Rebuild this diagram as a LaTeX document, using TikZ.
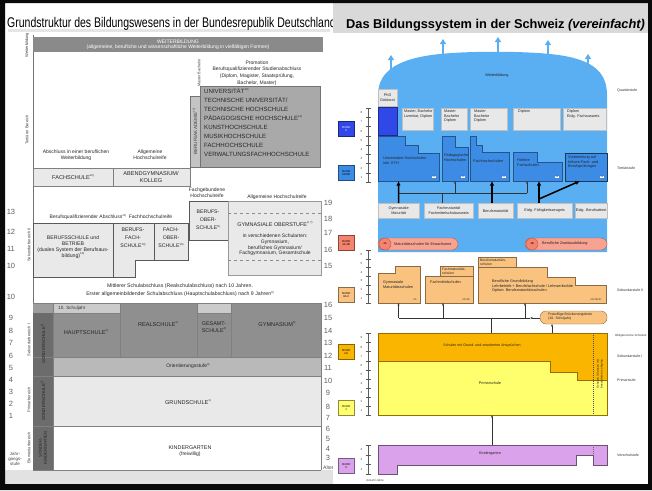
\documentclass[tikz,border=0pt]{standalone}
\usepackage{fontspec}
\usepackage{graphicx}
\setmainfont{Liberation Sans}
\usetikzlibrary{arrows.meta}
\newcommand\fsz[2]{\fontsize{#1}{#2}\selectfont}
\newcommand\fn[1]{\raisebox{0.5em}{\fsz{2.8}{3}#1)}}

\definecolor{frameK}{HTML}{0A0A0A}
\definecolor{wbBar}{HTML}{8A8A8A}
\definecolor{uniG}{HTML}{A9A9A9}
\definecolor{baG}{HTML}{C4C4C4}
\definecolor{paleG}{HTML}{E9E9E9}
\definecolor{midG}{HTML}{B9B9B9}
\definecolor{darkG}{HTML}{8F8F8F}
\definecolor{colG}{HTML}{6C6C6C}
\definecolor{stripG}{HTML}{CBCBCB}
\definecolor{footG}{HTML}{E2E2E2}
\definecolor{titleG}{HTML}{D9D9D9}
\definecolor{skyA}{HTML}{5AAEF2}
\definecolor{blueB}{HTML}{3C8CE6}
\definecolor{blueD}{HTML}{3048E8}
\definecolor{boxG}{HTML}{E8E8E8}
\definecolor{pillR}{HTML}{F6836E}
\definecolor{orL}{HTML}{F9C27E}
\definecolor{orD}{HTML}{F9B500}
\definecolor{yel}{HTML}{FFFF6E}
\definecolor{lil}{HTML}{D9A2EA}

% vertical year scale: x, top, bottom, number of years, offset of the first label
\newcommand\yearscale[5]{%
  \draw[rulerline] (#1,#2) -- (#1,#3);
  \foreach \k in {0,...,#4}{\draw[rulerline] ({#1-2.5},{#2+(#3-#2)*\k/#4}) -- ({#1+2.5},{#2+(#3-#2)*\k/#4});}
  \foreach \k in {1,...,#4}{\pgfmathtruncatemacro\lab{\k+#5}
    \node[rulernum] (yr-#2-\k) at ({#1-6.5},{#3-(#3-#2)*(\k-0.5)/#4}) {\lab};}
}

\begin{document}
\begin{tikzpicture}[x=1pt,y=-1pt,
  de/.style={font=\fsz{5}{6}, align=center, inner sep=0pt, text=black!85},
  decap/.style={font=\fsz{5.6}{6.6}, align=center, inner sep=0pt, text=black!85},
  devert/.style={font=\fsz{4}{4.6}, rotate=90, inner sep=0pt, text=black!75, align=center},
  num/.style={font=\fsz{7.5}{8.5}, inner sep=0pt, text=black!62},
  sek2box/.style={fill=paleG, draw=black!65, line width=0.7pt},
  ch/.style={font=\fsz{3.8}{4.5}, align=left, inner sep=0pt, text=black!85},
  chc/.style={font=\fsz{3.8}{4.5}, align=center, inner sep=0pt, text=black!85},
  tag/.style={fill=white, font=\fsz{2.4}{3}, inner sep=0.6pt, text=black!70},
  isc/.style={draw=#1!55!black, fill=#1, minimum width=16pt, minimum height=15pt, inner sep=0pt, font=\fsz{2.8}{3.3}, align=center, line width=0.4pt},
  graybox/.style={fill=boxG, draw=black!25, line width=0.3pt},
  qualbox/.style={graybox, anchor=north west, chc, inner sep=0pt},
  thinarr/.style={draw=black!80, line width=0.4pt, -{Latex[length=2.4pt,width=2.2pt]}},
  boldarr/.style={draw=black, line width=1.5pt, -{Latex[length=4.5pt,width=4.5pt]}},
  domearr/.style={draw=skyA, line width=1.8pt, -{Triangle[length=5pt,width=6pt]}},
  rulerline/.style={draw=black!65, line width=0.35pt},
  rulernum/.style={font=\fsz{3}{3.5}, inner sep=0pt, text=black!75},
  lvl/.style={font=\fsz{3.6}{4}, anchor=west, inner sep=0pt, text=black!80},
  bluebox/.style={fill=blueB, draw=blueB!60!black, line width=0.4pt},
  orbox/.style={fill=orL, draw=orL!55!black, line width=0.4pt},
]
\useasboundingbox (0,0) rectangle (652,490);
\fill[white] (0,0) rectangle (652,490);

% ================= German chart =================
\fill[footG] (5,470) rectangle (333,484);
\fill[black!10] (8,29) rectangle (330,31.5);
\begin{scope}
  \clip (5,3) rectangle (333,33);
  \node[anchor=base west, inner sep=0pt, font=\fsz{14}{16}] (titleDE) at (7,27)
    {\scalebox{0.75}[1]{Grundstruktur des Bildungswesens in der Bundesrepublik Deutschland}};
\end{scope}

% axis
\draw[black!55, line width=0.6pt] (33,35) -- (33,470);

% Weiterbildung
\fill[wbBar] (33,37) rectangle (323,52);
\node[font=\fsz{5}{5.5}, inner sep=0pt, text=white] (wbTitle) at (178,41.5) {WEITERBILDUNG};
\node[font=\fsz{5}{5.5}, inner sep=0pt, text=white] (wbSub) at (178,47.5) {(allgemeine, berufliche und wissenschaftliche Weiterbildung in vielfältigen Formen)};

% tertiary
\node[de, font=\fsz{5}{6.6}] (promo) at (257,73) {Promotion\\Berufsqualifizierender Studienabschluss\\(Diplom, Magister, Staatsprüfung,\\Bachelor, Master)};
\node[devert, font=\fsz{3.8}{4}] (bachV) at (199,67) {Bachelor};
\node[devert, font=\fsz{3.8}{4}] (mastV) at (199,81) {Master};
\filldraw[fill=uniG, draw=black!55, line width=0.5pt] (200,86) rectangle (320,167);
\filldraw[fill=baG, draw=black!55, line width=0.4pt] (190,96) rectangle (200,167);
\node[devert, font=\fsz{4.6}{5}] (baText) at (195,131.5) {BERUFSAKADEMIE\fn{15}};
\foreach \txt [count=\i] in {UNIVERSITÄT\fn{13}, TECHNISCHE UNIVERSITÄT/, TECHNISCHE HOCHSCHULE, PÄDAGOGISCHE HOCHSCHULE\fn{14}, KUNSTHOCHSCHULE, MUSIKHOCHSCHULE, FACHHOCHSCHULE, VERWALTUNGSFACHHOCHSCHULE}
  \node[decap, anchor=west, font=\fsz{6.1}{7}] (uni-\i) at (204,{91+(\i-1)*9}) {\txt};

\node[de] (absWB) at (76,155) {Abschluss in einer beruflichen\\Weiterbildung};
\node[de] (ahr1) at (150,155) {Allgemeine\\Hochschulreife};
\filldraw[fill=paleG, draw=black!50, line width=0.5pt] (33,168) rectangle (113,186);
\filldraw[fill=paleG, draw=black!50, line width=0.5pt] (113,168) rectangle (190,186);
\node[decap] (fachschule) at (73,177) {FACHSCHULE\fn{12}};
\node[decap] (abendgym) at (151,177) {ABENDGYMNASIUM/\\KOLLEG};

% upper secondary
\node[de] (fgHR) at (207,193) {Fachgebundene\\Hochschulreife};
\node[de] (ahr2) at (277,197) {Allgemeine Hochschulreife};
\node[de] (bqA) at (111,217) {Berufsqualifizierender Abschluss\fn{11}\ \ Fachhochschulreife};
\filldraw[sek2box] (33,223) rectangle (113,277);
\filldraw[sek2box] (113,223) -- (154,223) -- (154,260) -- (135,260) -- (135,277) -- (113,277) -- cycle;
\filldraw[sek2box] (154,223) rectangle (188,260);
\filldraw[sek2box] (189,201) rectangle (228,240);
\filldraw[sek2box, draw=black!40, line width=0.5pt] (228,201) rectangle (321,275);
\draw[black!45, dashed, line width=0.4pt] (228,213) -- (321,213);
\draw[black!45, dashed, line width=0.4pt] (228,260) -- (321,260);
\node[decap, font=\fsz{5.2}{6}] (bsb) at (73,247) {BERUFSSCHULE und\\BETRIEB\\(duales System der Berufsaus-\\bildung)\fn{10}};
\node[decap, font=\fsz{5.2}{8}] (bfs) at (133,238) {BERUFS-\\FACH-\\SCHULE\fn{10}};
\node[decap, font=\fsz{5.2}{8}] (fos) at (171,238) {FACH-\\OBER-\\SCHULE\fn{10}};
\node[decap, font=\fsz{5.2}{8}] (bos) at (208,220) {BERUFS-\\OBER-\\SCHULE\fn{8}};
\node[decap, font=\fsz{5.4}{6}] (gost) at (275,224) {GYMNASIALE OBERSTUFE\fn{9, 7}};
\node[de, font=\fsz{5}{5.8}] (gostSub) at (275,245) {in verschiedenen Schularten:\\Gymnasium,\\berufliches Gymnasium/\\Fachgymnasium, Gesamtschule};

\node[de, font=\fsz{5.2}{6}] (msa) at (180,286) {Mittlerer Schulabschluss (Realschulabschluss) nach 10 Jahren.};
\node[de, font=\fsz{5.2}{6}] (esa) at (180,294) {Erster allgemeinbildender Schulabschluss (Hauptschulabschluss) nach 9 Jahren\fn{6}};

% lower secondary, primary, pre-school
\fill[darkG] (33,303) rectangle (321,357);
\fill[stripG] (53,303) rectangle (120,313);
\fill[stripG] (197,303) rectangle (231,313);
\fill[midG!85!black] (33,303) rectangle (53,313);
\fill[midG] (53,357) rectangle (321,376);
\fill[paleG] (53,376) rectangle (321,426);
\fill[colG] (33,313) rectangle (53,470);
\draw[black!50, line width=0.4pt] (33,303) -- (321,303) (53,313) -- (120,313) (197,313) -- (231,313)
  (33,357) -- (321,357) (33,376) -- (321,376) (33,426) -- (321,426) (33,470) -- (321,470)
  (53,303) -- (53,470) (120,303) -- (120,357) (197,303) -- (197,357) (231,303) -- (231,357)
  (321,303) -- (321,470);
\node[font=\fsz{4.6}{5}, anchor=west, inner sep=0pt, text=black!80] (tenth) at (58,308) {10. Schuljahr};
\node[decap] (hauptschule) at (86,332) {HAUPTSCHULE\fn{4}};
\node[decap] (realschule) at (158,324) {REALSCHULE\fn{4}};
\node[decap, font=\fsz{5.4}{6.6}] (gesamtschule) at (214,327) {GESAMT-\\SCHULE\fn{4}};
\node[decap] (gymnasium) at (277,324) {GYMNASIUM\fn{5}};
\node[de] (orient) at (188,366) {Orientierungsstufe\fn{3}};
\node[decap] (grundschule) at (188,402) {GRUNDSCHULE\fn{1}};
\node[decap, font=\fsz{5.4}{6.4}] (kiga) at (190,451) {KINDERGARTEN\\{\fsz{5}{6}(freiwillig)}};
\node[devert, font=\fsz{4.4}{5}, text=black!85] (sonder1) at (43,344) {SONDERSCHULE\fn{2}};
\node[devert, font=\fsz{4.4}{5}, text=black!85] (sonder2) at (43,401) {SONDERSCHULE\fn{2}};
\node[devert, font=\fsz{4.2}{5}, text=black!85] (sonderkg) at (43,448) {SONDER-\\KINDERGARTEN};

% area labels and grades
\node[devert] (wbV) at (27,45) {Weiterbildung};
\node[devert] (tertV) at (27,130) {Tertiärer Bereich};
\node[devert] (sek2V) at (29,245) {Sekundarbereich II};
\node[devert] (sek1V) at (29,340) {Sekundarbereich I};
\node[devert] (primV) at (29,400) {Primarbereich};
\node[devert] (elemV) at (29,448) {Elementarbereich};
\node[font=\fsz{4.4}{5}, align=center, inner sep=0pt, text=black!75] (jgs) at (15,459) {Jahr-\\gangs-\\stufe};
\foreach \n/\yy in {13/212,12/232,11/249,10/266}
  \node[num] (gu-\n) at (11,\yy) {\n};
\foreach \n/\yy in {10/297,9/318,8/331,7/343,6/356,5/368,4/380,3/392,2/404,1/416}
  \node[num] (gl-\n) at (11,\yy) {\n};
\foreach \n/\yy in {19/203,18/219,17/233,16/250,15/266}
  \node[num] (au-\n) at (328,\yy) {\n};
\foreach \n/\yy in {16/305,15/318,14/331,13/343,12/356,11/368,10/381,9/393,8/407,7/418,6/429,5/439,4/449,3/458}
  \node[num] (al-\n) at (328,\yy) {\n};
\node[font=\fsz{5}{5}, inner sep=0pt, anchor=west, text=black!70] (alter) at (323,468) {Alter};

% ================= Swiss chart =================
\fill[white] (333,33) rectangle (648,484);
\fill[titleG] (333,3) rectangle (648,33);
\node[anchor=base west, inner sep=0pt, font=\bfseries\fsz{12.8}{14}] (titleCH) at (346,28)
  {Das Bildungssystem in der Schweiz \textit{(vereinfacht)}};

% tertiary dome
\fill[skyA] (378,252) -- (378,95) .. controls (378,70) and (400,58) .. (440,54)
  .. controls (470,51) and (520,51) .. (550,54) .. controls (590,58) and (607,70) .. (607,95) -- (607,252) -- cycle;
\foreach \i/\xx/\ya/\yb in {1/391/74/55,2/443/58/39,3/498/56/37,4/548/58/40,5/588/72/54}{
  \coordinate (dome\i a) at (\xx,\ya);
  \coordinate (dome\i b) at (\xx,\yb);
  \draw[domearr] (dome\i a) -- (dome\i b);
}
\node[chc] (wbCH) at (497,76) {Weiterbildung};

\node[qualbox, minimum width=19pt, minimum height=17pt] (phd) at (378,89) {PhD\\Doktorat};
\fill[blueD, draw=blueD!60!black, line width=0.4pt] (378,107) rectangle (397,135);
\node[qualbox, minimum width=31pt, minimum height=22pt] (q1) at (402,108) {};
\node[ch, anchor=north west] (q1t) at (404,110) {Master, Bachelor\\Lizentiat, Diplom};
\node[qualbox, minimum width=26pt, minimum height=22pt] (q2) at (441,108) {};
\node[ch, anchor=north west] (q2t) at (444,110) {Master\\Bachelor\\Diplom};
\node[qualbox, minimum width=37pt, minimum height=22pt] (q3) at (470,108) {};
\node[ch, anchor=north west] (q3t) at (474,110) {Master\\Bachelor\\Diplom};
\node[qualbox, minimum width=47pt, minimum height=22pt] (q4) at (513,108) {};
\node[ch, anchor=north west] (q4t) at (518,110) {Diplom};
\node[qualbox, minimum width=43pt, minimum height=22pt] (q5) at (563,108) {};
\node[ch, anchor=north west] (q5t) at (567,110) {Diplom\\Eidg. Fachausweis};

% tertiary schools
\filldraw[bluebox] (378,136) -- (405,136) -- (405,145) -- (418,145) -- (418,153) -- (439,153) -- (439,181) -- (378,181) -- cycle;
\filldraw[bluebox] (442,136) -- (455,136) -- (455,147) -- (468,147) -- (468,181) -- (442,181) -- cycle;
\filldraw[bluebox] (470,136) -- (476,136) -- (476,145) -- (482,145) -- (482,152) -- (509,152) -- (509,181) -- (470,181) -- cycle;
\filldraw[bluebox] (513,152) -- (537,152) -- (537,162) -- (562,162) -- (562,181) -- (513,181) -- cycle;
\filldraw[bluebox, draw=blueB!40!black] (565,153) rectangle (607,181);
\node[ch, anchor=north west] (uniT) at (383,157) {Universitäre Hochschulen\\inkl. ETH};
\node[ch, anchor=north west] (phT) at (444,154) {Pädagogische\\Hochschulen};
\node[ch, anchor=north west] (fhT) at (473,160) {Fachhochschulen};
\node[ch, anchor=north west] (hfT) at (517,159) {Höhere\\Fachschulen};
\node[ch, anchor=north west] (vbT) at (568,156) {Vorbereitung auf\\höhere Fach- und\\Berufsprüfungen};
\node[tag] (tagU) at (434,177) {5A};
\node[tag] (tagP) at (463,177) {5A};
\node[tag] (tagF) at (504,177) {5A};
\node[tag] (tagH) at (557,177) {5B};
\node[tag] (tagV) at (602,177) {5B};

% entry qualifications
\node[qualbox, minimum width=41pt, minimum height=15pt] (gm) at (378,203) {Gymnasiale\\Maturität};
\node[qualbox, minimum width=49pt, minimum height=15pt] (fm) at (424,203) {Fachmaturität\\Fachmittelschulausweis};
\node[qualbox, minimum width=35pt, minimum height=15pt] (bm) at (478,203) {Berufsmaturität};
\node[qualbox, minimum width=55pt, minimum height=15pt] (efz) at (517,203) {Eidg. Fähigkeitszeugnis};
\node[qualbox, minimum width=32pt, minimum height=15pt] (eba) at (575,203) {Eidg. Berufsattest};

\coordinate (uniIn) at (398.5,181);
\coordinate (phIn) at (455,181);
\coordinate (fhIn) at (492,181);
\coordinate (hfIn) at (539,181);
\coordinate (hfIn2) at (527,181);
\coordinate (vbIn) at (580,181);
\coordinate (bmOut) at (492,203);
\coordinate (efzOut) at (539,203);
\coordinate (efzMid) at (539,199);
\coordinate (busL) at (398.5,193);
\coordinate (busR) at (527,193);
\coordinate (busPh) at (455,193);
\coordinate (busFm) at (442,193);
\coordinate (fmOut) at (442,203);
\draw[black!80, line width=0.4pt] (busL) -- (busR);
\draw[black!80, line width=0.4pt] (fmOut) -- (busFm);
\draw[thinarr] (busPh) -- (phIn);
\draw[thinarr] (busR) -- (hfIn2);
\draw[boldarr] (gm.north) -- (uniIn);
\draw[boldarr] (bmOut) -- (fhIn);
\draw[boldarr] (efzOut) -- (hfIn);
\draw[boldarr] (efzMid) -- (vbIn);

% second-chance education
\filldraw[fill=pillR!75!white, draw=pillR!70!black, line width=0.4pt, rounded corners=6pt] (378,238) rectangle (458,250);
\node[circle, fill=pillR, draw=pillR!70!black, line width=0.4pt, minimum size=12pt, inner sep=0pt, font=\fsz{2.8}{3}] (c4a) at (385,244) {4A};
\node[ch, anchor=west] (p4aT) at (394,244) {Maturitätsschulen für Erwachsene};
\filldraw[fill=pillR!75!white, draw=pillR!70!black, line width=0.4pt, rounded corners=6pt] (525,238) rectangle (607,250);
\node[circle, fill=pillR, draw=pillR!70!black, line width=0.4pt, minimum size=12pt, inner sep=0pt, font=\fsz{2.8}{3}] (c4b) at (532,244) {4B};
\node[ch, anchor=west] (p4bT) at (542,244) {Berufliche Zweitausbildung};

% upper secondary
\filldraw[orbox] (378,273) -- (395,273) -- (395,266) -- (420,266) -- (420,303) -- (378,303) -- cycle;
\filldraw[orbox] (440,266) rectangle (473,276);
\filldraw[orbox] (425,276) rectangle (473,303);
\filldraw[orbox] (478,257) rectangle (516,267);
\filldraw[orbox] (478,267) -- (547,267) -- (547,277) -- (575,277) -- (575,285) -- (606,285) -- (606,303) -- (478,303) -- cycle;
\node[ch, anchor=north west] (gmsT) at (383,281) {Gymnasiale\\Maturitätsschulen};
\node[ch, anchor=north west, font=\fsz{3.4}{4}] (fmsSmT) at (442,267.5) {Fachmaturitäts-\\schulen};
\node[ch, anchor=north west] (fmsT) at (430,281) {Fachmittelschulen};
\node[ch, anchor=north west, font=\fsz{3.4}{4}] (bmsSmT) at (480,258.5) {Berufsmaturitäts-\\schulen};
\node[ch, anchor=north west] (bgT) at (492,280) {Berufliche Grundbildung\\Lehrbetrieb + Berufsfachschule / Lehrwerkstätte\\Option: Berufsmaturitätsschulen};
\node[font=\fsz{2.6}{3}, inner sep=0pt, text=black!75] (tag3a) at (415,299.5) {3A};
\node[font=\fsz{2.6}{3}, inner sep=0pt, text=black!75] (tag3b) at (466,299.5) {3A/3B};
\node[font=\fsz{2.6}{3}, inner sep=0pt, text=black!75] (tag3c) at (596,299.5) {3A/3B/3C};

% lower secondary and primary
\fill[orD] (378,333) rectangle (607,415);
\filldraw[fill=yel, draw=orD!60!black, line width=0.35pt] (378,361) -- (550,361) -- (550,372) -- (577,372) -- (577,380) -- (607,380) -- (607,415) -- (378,415) -- cycle;
\draw[orD!60!black, line width=0.4pt] (378,333) rectangle (607,415);
\draw[black!70, dashed, dash pattern=on 1pt off 1pt, line width=0.4pt] (593,333) -- (593,415);
\node[chc, font=\fsz{3.6}{4}] (sek1T) at (482,346) {Schulen mit Grund- und erweiterten Ansprüchen};
\node[chc] (primT) at (490,383) {Primarschule};
\node[chc, rotate=90, font=\fsz{3}{3.6}] (sonderCH) at (600,374) {Schulen / Klassen mit\\besonderem Lehrplan};

% bridge year and connectors
\filldraw[orbox, rounded corners=6pt] (540,311) rectangle (607,324);
\node[ch, anchor=north west, font=\fsz{3.5}{4.2}] (bridgeT) at (548,313) {Freiwillige Brückenangebote\\(10. Schuljahr)};
\coordinate (secBusL) at (398.5,318);
\coordinate (secBusR) at (530,318);
\coordinate (gmsIn) at (398.5,303);
\coordinate (fmsBus) at (443,318);
\coordinate (fmsIn) at (443,303);
\coordinate (bgBus) at (525,318);
\coordinate (bgIn) at (525,303);
\coordinate (sek1Top) at (491,333);
\coordinate (sek1Bus) at (491,318);
\coordinate (bridgeL) at (540,318);
\coordinate (sek1Top2) at (552,333);
\coordinate (bridgeB) at (552,324);
\draw[black!80, line width=0.4pt] (secBusL) -- (secBusR);
\draw[black!80, line width=0.4pt] (sek1Top) -- (sek1Bus);
\draw[thinarr] (secBusL) -- (gmsIn);
\draw[thinarr] (fmsBus) -- (fmsIn);
\draw[thinarr] (bgBus) -- (bgIn);
\draw[thinarr] (bridgeL) -- (secBusR);
\draw[thinarr] (sek1Top2) -- (bridgeB);

% kindergarten
\filldraw[fill=lil, draw=lil!50!black, line width=0.4pt] (378,445) -- (607,445) -- (607,465) -- (593,465) -- (593,455) -- (576,455) -- (576,465) -- (397,465) -- (397,474) -- (378,474) -- cycle;
\draw[black!60, dashed, dash pattern=on 1pt off 1pt, line width=0.4pt] (593,445) -- (593,455);
\node[chc] (kgT) at (490,454) {Kindergarten};
\coordinate (kgTop) at (492,445);
\coordinate (primBot) at (492,415);
\draw[thinarr] (kgTop) -- (primBot);

% ISCED levels
\node[isc=blueD, anchor=north west, text=white] (isc6) at (338,121) {ISCED\\6};
\node[isc=blueB, anchor=north west] (isc5) at (338,165) {ISCED\\5A/5B};
\node[isc=pillR, anchor=north west] (isc4) at (338,235) {ISCED\\4A-4B};
\node[isc=orL, anchor=north west] (isc3) at (338,287) {ISCED\\3A-C};
\node[isc=orD, anchor=north west] (isc2) at (338,344) {ISCED\\2A};
\node[isc=yel, anchor=north west] (isc1) at (338,400) {ISCED\\1};
\node[isc=lil, anchor=north west] (isc0) at (338,458) {ISCED\\0};

% year scales
\yearscale{368}{108}{182}{8}{0}
\yearscale{368}{250}{303}{6}{0}
\yearscale{368}{333}{361}{3}{6}
\yearscale{368}{361}{415}{6}{0}
\yearscale{368}{445}{474}{3}{0}
\node[font=\fsz{3}{3.5}, inner sep=0pt, text=black!70] (anzahl) at (375,480) {Anzahl Jahre};

% stage labels
\node[lvl] (lQ) at (617,91) {Quartärstufe};
\node[lvl] (lT) at (617,168) {Tertiärstufe};
\node[lvl] (lS2) at (617,290) {Sekundarstufe II};
\node[lvl, font=\fsz{2.9}{3.4}] (lOb) at (615,336) {Obligatorische Schulzeit};
\node[lvl] (lS1) at (617,356) {Sekundarstufe I};
\node[lvl] (lP) at (617,380) {Primarstufe};
\node[lvl] (lV) at (617,455) {Vorschulstufe};

% outer frame
\fill[frameK, even odd rule] (0,0) rectangle (652,490) (5,3) rectangle (648,484);
\end{tikzpicture}
\end{document}
